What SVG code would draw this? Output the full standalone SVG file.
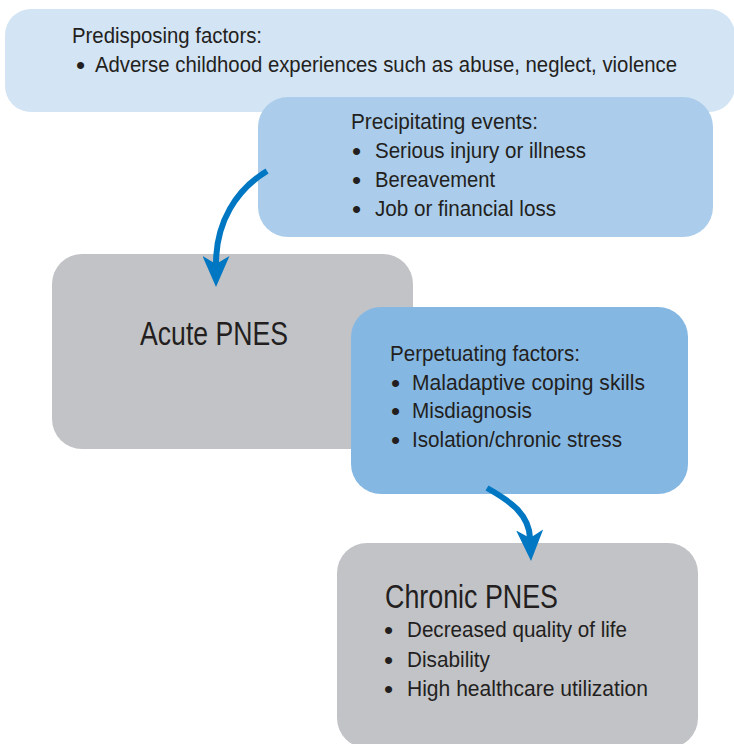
<svg xmlns="http://www.w3.org/2000/svg" width="734" height="744" viewBox="0 0 734 744">
<style>
text{font-family:"Liberation Sans",Arial,sans-serif;fill:#231f20;}
.s{font-size:22px;}
.d{font-size:26px;}
.b{font-size:33px;}
.arrow{fill:none;stroke:#0077c3;stroke-width:6;}
</style>
<defs>
<marker id="ah" viewBox="0 0 31 27" refX="8" refY="13.5" markerWidth="31" markerHeight="27" markerUnits="userSpaceOnUse" orient="auto">
<path d="M0,0 L31,13.5 L0,27 L8,13.5 Z" fill="#0077c3"/>
</marker>
</defs>
<rect width="734" height="744" fill="#ffffff"/>
<g id="predisposing">
<rect x="5" y="9" width="730" height="103" rx="26" fill="#d3e4f4"/>
<text class="s" x="72" y="43" textLength="190" lengthAdjust="spacingAndGlyphs">Predisposing factors:</text>
<text class="d" x="76" y="74">•</text>
<text class="s" x="95" y="72" textLength="582" lengthAdjust="spacingAndGlyphs">Adverse childhood experiences such as abuse, neglect, violence</text>
</g>
<g id="precipitating">
<rect x="258" y="97" width="455" height="140" rx="30" fill="#abcdeb"/>
<text class="s" x="351" y="129" textLength="187" lengthAdjust="spacingAndGlyphs">Precipitating events:</text>
<text class="d" x="352" y="160">•</text>
<text class="s" x="375" y="158" textLength="211" lengthAdjust="spacingAndGlyphs">Serious injury or illness</text>
<text class="d" x="352" y="189">•</text>
<text class="s" x="375" y="187" textLength="120" lengthAdjust="spacingAndGlyphs">Bereavement</text>
<text class="d" x="352" y="218">•</text>
<text class="s" x="375" y="216" textLength="181" lengthAdjust="spacingAndGlyphs">Job or financial loss</text>
</g>
<g id="acute">
<rect x="52" y="254" width="361" height="195" rx="30" fill="#c2c3c7"/>
<text class="b" x="140" y="345" textLength="148" lengthAdjust="spacingAndGlyphs">Acute PNES</text>
</g>
<g id="perpetuating">
<rect x="351" y="307" width="337" height="187" rx="30" fill="#85b7e3"/>
<text class="s" x="390" y="361" textLength="190" lengthAdjust="spacingAndGlyphs">Perpetuating factors:</text>
<text class="d" x="391" y="392">•</text>
<text class="s" x="412" y="390" textLength="233" lengthAdjust="spacingAndGlyphs">Maladaptive coping skills</text>
<text class="d" x="391" y="420">•</text>
<text class="s" x="412" y="418" textLength="120" lengthAdjust="spacingAndGlyphs">Misdiagnosis</text>
<text class="d" x="391" y="449">•</text>
<text class="s" x="412" y="447" textLength="210" lengthAdjust="spacingAndGlyphs">Isolation/chronic stress</text>
</g>
<g id="chronic">
<rect x="337" y="543" width="361" height="205" rx="30" fill="#c2c3c7"/>
<text class="b" x="385" y="608" textLength="173" lengthAdjust="spacingAndGlyphs">Chronic PNES</text>
<text class="d" x="384" y="639">•</text>
<text class="s" x="407" y="637" textLength="220" lengthAdjust="spacingAndGlyphs">Decreased quality of life</text>
<text class="d" x="384" y="669">•</text>
<text class="s" x="407" y="667" textLength="83" lengthAdjust="spacingAndGlyphs">Disability</text>
<text class="d" x="384" y="698">•</text>
<text class="s" x="407" y="696" textLength="241" lengthAdjust="spacingAndGlyphs">High healthcare utilization</text>
</g>
<g id="connectors">
<path class="arrow" d="M267,171 C236,190 216,222 216,264" marker-end="url(#ah)"/>
<path class="arrow" d="M487,488 C512,502 529,515 530,538" marker-end="url(#ah)"/>
</g>
</svg>
